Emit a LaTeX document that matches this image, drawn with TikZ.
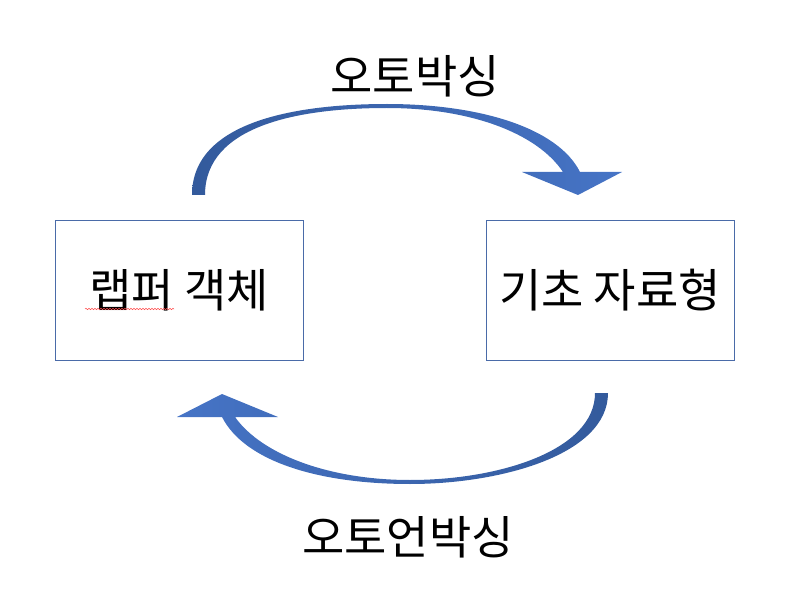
\documentclass[tikz,border=0pt]{standalone}
\usepackage{fontspec}
\newfontfamily\kr{Noto Sans CJK KR}
\usetikzlibrary{decorations.pathmorphing}
\definecolor{boxline}{HTML}{4A6BA8}
\definecolor{arrowdark}{HTML}{335A9C}
\definecolor{arrowlight}{HTML}{4674C6}
\begin{document}
\begin{tikzpicture}[x=1pt,y=-1pt]
  \tikzstyle{box} = [draw=boxline, line width=0.8pt, minimum width=248pt, minimum height=140pt, inner sep=0pt];
  \tikzstyle{label} = [font=\kr\fontsize{46}{54}\selectfont, inner sep=0pt];
  \useasboundingbox (0,0) rectangle (796,599);

  \node[box, label] (wrapper) at (179,290) {랩퍼 객체};
  \node[box, label] (primitive) at (610,290.5) {기초 자료형};

  \node[label] (boxing) at (415,76) {오토박싱};
  \node[label] (unboxing) at (408,537) {오토언박싱};

  % boxing arrow
  \shade[left color=arrowdark, right color=arrowlight]
    (192,195) .. controls (192,120) and (300,104) .. (387,104)
    .. controls (480,104) and (558,128) .. (580,172)
    -- (622,172) -- (578,195) -- (522,172) -- (563,172)
    .. controls (537,133) and (470,108) .. (387,108)
    .. controls (300,108) and (205,125) .. (205,195) -- cycle;

  % unboxing arrow
  \shade[left color=arrowlight, right color=arrowdark]
    (608,393) .. controls (608,455) and (500,484) .. (410,484)
    .. controls (320,484) and (245,462) .. (222,417)
    -- (177,417) -- (222,394) -- (278,417) -- (235,417)
    .. controls (262,455) and (330,480) .. (410,480)
    .. controls (500,480) and (595,450) .. (595,393) -- cycle;

  % spell check mark
  \draw[red!70, line width=0.5pt, decorate, decoration={snake, amplitude=0.7pt, segment length=3pt}]
    (85,309) -- (174,309);

\end{tikzpicture}
\end{document}
